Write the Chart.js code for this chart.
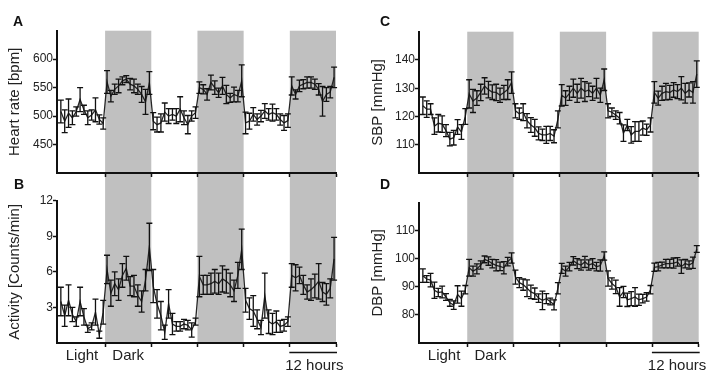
<!DOCTYPE html>
<html><head><meta charset="utf-8">
<script src="https://cdn.jsdelivr.net/npm/chart.js@4"></script>
<style>
html,body{margin:0;padding:0;background:#fff;}
#wrap{position:relative;width:709px;height:390px;overflow:hidden;font-family:'Liberation Sans',Arial,sans-serif;}
canvas{position:absolute;}
.lbl{position:absolute;font-weight:bold;font-size:14px;color:#111;line-height:14px;}
</style></head><body>
<div id="wrap">
<canvas id="cA" width="354" height="187" style="left:0;top:0"></canvas>
<canvas id="cB" width="354" height="203" style="left:0;top:187px"></canvas>
<canvas id="cC" width="354" height="187" style="left:355px;top:0"></canvas>
<canvas id="cD" width="354" height="203" style="left:355px;top:187px"></canvas>
<div class="lbl" style="left:13px;top:14px">A</div>
<div class="lbl" style="left:14px;top:177px">B</div>
<div class="lbl" style="left:380px;top:14px">C</div>
<div class="lbl" style="left:380px;top:177px">D</div>
</div>
<script>
// ---- data (hourly means over 3 light/dark cycles, 12 h each) ----
const HOURS = Array.from({length: 72}, (_, i) => i + 0.5);   // mid-hour time stamps
const DARK_PHASES = [[12, 24], [36, 48], [60, 72]];
const X_LABELS = {6: 'Light', 18: 'Dark'};

const hrMean = [508,491,505,497,508,529,511,497,502,511,494,487,
  560,535,547,553,562,565,556,553,547,538,525,558,
  491,485,488,507,500,503,500,512,497,485,500,506,
  550,547,538,559,550,541,553,538,532,538,535,562,
  488,491,503,494,500,509,503,506,503,494,488,492,
  553,538,553,556,559,559,556,547,526,538,542,568];
const hrErr = [20,20,25,12,8,21,8,12,9,21,8,10,
  20,10,9,12,7,6,10,12,9,14,22,20,
  15,13,16,16,13,10,13,22,12,16,9,10,
  10,8,10,13,12,8,15,16,8,13,10,28,
  19,14,12,10,10,13,10,15,10,10,13,12,
  16,8,10,8,10,10,9,10,26,12,10,18];

const actMean = [3.5,2.3,3.6,2.4,1.8,3.5,2.2,1.2,1.4,2.6,0.7,2.6,
  6.2,4.2,5.0,4.5,5.7,6.3,4.8,4.8,4.0,3.5,5.3,8.1,
  4.8,3.3,2.3,0.9,3.3,1.6,1.4,1.4,1.6,1.5,1.1,1.8,
  5.6,4.9,4.9,5.0,5.2,5.0,5.4,5.2,4.9,4.4,5.7,7.9,
  3.6,2.9,2.7,2.0,1.3,4.0,1.8,1.6,1.8,1.4,1.5,1.8,
  5.7,5.5,5.7,4.9,4.3,4.5,4.8,5.2,4.3,4.1,4.6,7.1];
const actErr = [1.2,0.9,1.3,0.6,0.4,1.2,0.7,0.3,0.3,1.1,0.3,1.0,
  1.2,1.1,1.0,0.9,1.0,1.0,0.8,0.9,0.9,0.9,0.9,2.0,
  1.4,1.2,1.2,0.6,1.2,0.9,0.4,0.4,0.4,0.4,0.6,0.3,
  1.7,0.8,0.8,0.9,1.0,0.9,1.1,1.0,1.0,0.9,1.1,1.7,
  1.0,0.9,1.3,0.8,0.6,1.9,1.0,0.9,0.9,0.5,0.5,0.4,
  1.0,1.1,0.7,0.8,0.6,0.9,1.0,1.5,0.8,0.9,0.8,1.8];

const sbpMean = [123.8,122.6,122.6,116.6,117.6,117.3,115,112,112.5,116.3,114.5,120,
  128,125.5,126.5,128.5,130.8,129.5,128.6,128.5,127.5,128.5,129.5,132,
  122,121,121.5,118.5,117,116,114,113.5,113.5,114,113,119,
  127.5,126.5,128.2,130,128.2,130,128.8,129.4,128.2,130,127.5,133,
  122,121.5,120.5,119.4,114.1,117,113.5,114.7,114.7,115.9,115.3,117,
  128.5,126.5,128.2,128.8,128.5,129.4,128.8,130,128.2,129.4,128.5,135];
const sbpErr = [3.1,2.9,1.9,2.9,3.1,2.9,2.1,2.4,2.6,2.6,2.6,2.8,
  5.0,4.1,2.6,2.9,2.9,2.9,2.6,2.9,2.5,2.5,3.5,3.8,
  2.5,2,3,2.5,2.6,3,2.3,2,3,2.5,2.3,3,
  3.8,2.6,2.5,3.2,3.2,3.5,3.5,2.4,2.5,3.5,2.5,3.8,
  2.5,1.5,1.5,2,2.9,2,2.9,3.5,3.5,2.5,2,2.5,
  3.8,2.5,2.5,2.9,2.5,2.6,2.5,4.1,3.5,2.5,3.8,4.7];

const dbpMean = [94,92.8,92.4,88.8,88,88.2,86.4,84.3,83.5,87.3,85.8,89,
  96.8,95.6,96.4,97.8,99.8,99.2,98.3,97.7,97.3,96.8,99,100.3,
  93.5,91.5,90.8,89.5,88.2,87.6,86,85.2,85.8,84.8,83.6,89.5,
  96.6,95.6,97.2,99.3,98.3,97.8,98.9,97.8,98.3,97.2,97.6,101,
  93,91.2,90,86.4,88.2,85.4,85.8,86.4,85.4,85.8,86.4,89,
  97,97.2,97.8,98.3,98.3,98.5,98.9,97.2,98.3,97.8,98.6,103.5];
const dbpErr = [2.4,1.2,2.4,2.9,1.5,2.1,1.2,1.2,1.5,3.1,2.7,1.5,
  3,1.8,1.8,1.5,1.2,1.5,1.5,2,1.5,2.2,1.5,1.8,
  2.5,1.8,2,3,2.4,2,1.5,3.3,1.8,1.2,1.8,2,
  1.8,1.8,1.5,1.5,1.8,1.8,2,1.8,1.8,1.5,2,1.5,
  2.7,2,2.4,3.3,2,2.4,2.5,3.3,2,1.5,1.5,1.5,
  1.5,1.5,1,1.5,1.5,1.8,1.5,2.4,1.5,1.5,2,1.2];

const hrTicks = [450, 500, 550, 600];
const actTicks = [3, 6, 9, 12];
const sbpTicks = [110, 120, 130, 140];
const dbpTicks = [80, 90, 100, 110];

// ---- drawing ----
const FONT = "'Liberation Sans', Arial, sans-serif";
Chart.defaults.font.family = FONT;

const shadePlugin = {
  id: 'shade',
  beforeDraw(chart, args, opts) {
    const {ctx, chartArea, scales: {x}} = chart;
    const y0 = opts.upper ? chartArea.top : 0;
    const y1 = opts.upper ? chart.height : chartArea.bottom;
    ctx.save();
    ctx.fillStyle = '#c0c0c0';
    DARK_PHASES.forEach(([a, b]) => {
      const xa = x.getPixelForValue(a), xb = x.getPixelForValue(b);
      ctx.fillRect(xa, y0, xb - xa, y1 - y0);
    });
    ctx.restore();
  }
};

const errPlugin = {
  id: 'errbars',
  afterDatasetsDraw(chart, args, opts) {
    const {ctx, scales: {x, y}} = chart;
    const pts = chart.data.datasets[0].data;
    ctx.save();
    ctx.strokeStyle = '#111';
    ctx.lineWidth = 1.3;
    pts.forEach((p, i) => {
      const e = opts.errs[i];
      const px = x.getPixelForValue(p.x);
      const yt = y.getPixelForValue(p.y + e), yb = y.getPixelForValue(p.y - e);
      ctx.beginPath();
      ctx.moveTo(px, yt); ctx.lineTo(px, yb);
      ctx.moveTo(px - 3, yt); ctx.lineTo(px + 3, yt);
      ctx.moveTo(px - 3, yb); ctx.lineTo(px + 3, yb);
      ctx.stroke();
    });
    ctx.restore();
  }
};

const hoursPlugin = {
  id: 'hoursbar',
  afterDraw(chart, args, opts) {
    if (!opts.show) return;
    const {ctx, chartArea, scales: {x}} = chart;
    const xa = x.getPixelForValue(60), xb = x.getPixelForValue(72);
    const yy = chartArea.bottom + 9.5;
    ctx.save();
    ctx.strokeStyle = '#111';
    ctx.lineWidth = 1.3;
    ctx.beginPath(); ctx.moveTo(xa - 0.5, yy); ctx.lineTo(xb + 1, yy); ctx.stroke();
    ctx.fillStyle = '#222';
    ctx.font = '15px ' + FONT;
    ctx.textAlign = 'center';
    ctx.textBaseline = 'middle';
    ctx.fillText('12 hours', (xa + xb) / 2 + 1.5, yy + 13.5);
    ctx.restore();
  }
};

function panel(id, mean, err, o) {
  return new Chart(document.getElementById(id), {
    type: 'line',
    data: {
      datasets: [{
        data: HOURS.map((h, i) => ({x: h, y: mean[i]})),
        borderColor: '#262626', borderWidth: 1.3, pointRadius: 0, tension: 0
      }]
    },
    options: {
      responsive: false, animation: false, devicePixelRatio: 1,
      layout: {padding: {left: o.padL, right: o.padR, top: o.padT, bottom: 0}},
      plugins: {
        legend: {display: false}, tooltip: {enabled: false},
        shade: {upper: o.upper}, errbars: {errs: err}, hoursbar: {show: o.bottom}
      },
      scales: {
        x: {
          type: 'linear', min: -0.5, max: 72,
          afterBuildTicks: s => { s.ticks = (o.bottom ? [6, 12, 18, 24, 36, 48, 60, 72] : [12, 24, 36, 48, 60, 72]).map(v => ({value: v})); },
          afterFit: s => { s.height = o.xH; },
          grid: {drawOnChartArea: false, drawTicks: true, tickLength: 4, tickWidth: 1.5,
            tickColor: c => (c.tick && c.tick.value % 12 === 0) ? '#111' : 'rgba(0,0,0,0)'},
          border: {color: '#111', width: 2},
          ticks: {display: o.bottom, autoSkip: false, maxRotation: 0, padding: 0,
            font: {size: 15}, color: '#222', callback: v => X_LABELS[v] || ''}
        },
        y: {
          min: o.min, max: o.max,
          afterBuildTicks: s => { s.ticks = o.ticks.map(v => ({value: v})); },
          afterFit: s => { s.width = o.yW; },
          grid: {drawOnChartArea: false, tickLength: 4, tickWidth: 1.5, tickColor: '#111'},
          border: {color: '#111', width: 2},
          ticks: {padding: 0, font: {size: 12}, color: '#222'},
          title: {display: true, text: o.title, font: {size: 15}, color: '#222', padding: {top: 5.5, bottom: 0}}
        }
      }
    },
    plugins: [shadePlugin, errPlugin, hoursPlugin]
  });
}

panel('cA', hrMean, hrErr, {padL: 0, padR: 18, padT: 30.7, xH: 14, yW: 57, min: 400, max: 650, ticks: hrTicks, title: 'Heart rate [bpm]', upper: true, bottom: false});
panel('cB', actMean, actErr, {padL: 0, padR: 18, padT: 13.7, xH: 47, yW: 57, min: 0, max: 12, ticks: actTicks, title: 'Activity [Counts/min]', upper: false, bottom: true});
panel('cC', sbpMean, sbpErr, {padL: 8, padR: 10.3, padT: 31.7, xH: 14, yW: 56, min: 100, max: 150, ticks: sbpTicks, title: 'SBP [mmHg]', upper: true, bottom: false});
panel('cD', dbpMean, dbpErr, {padL: 8, padR: 10.3, padT: 15.7, xH: 47, yW: 56, min: 70, max: 120, ticks: dbpTicks, title: 'DBP [mmHg]', upper: false, bottom: true});
</script>
</body></html>
